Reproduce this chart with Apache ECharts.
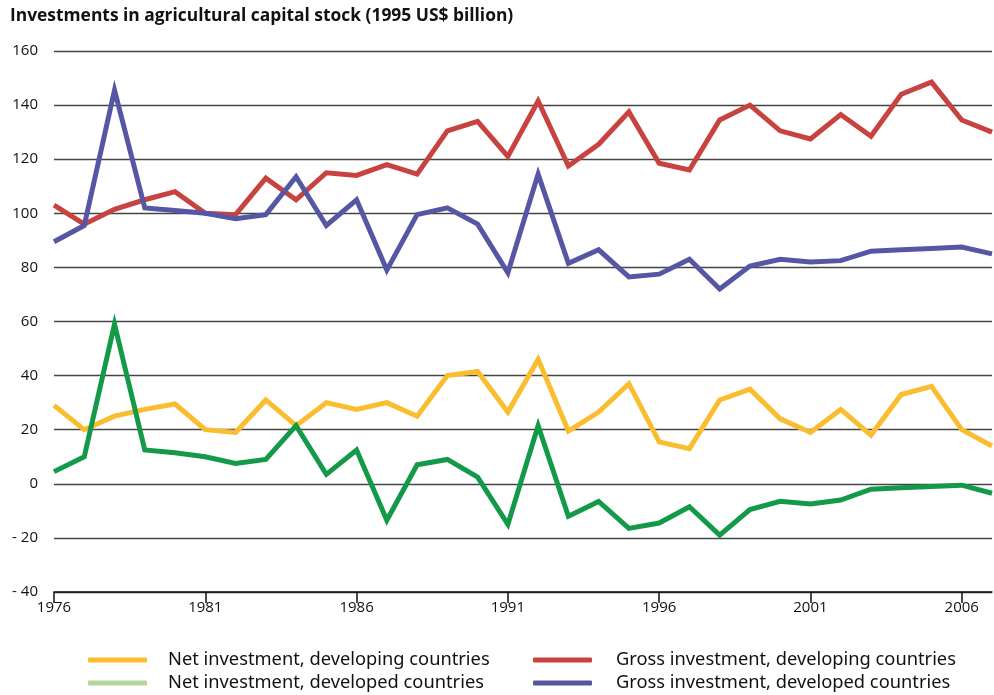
<!DOCTYPE html>
<html>
<head>
<meta charset="utf-8">
<title>Investments in agricultural capital stock</title>
<script src="https://cdn.jsdelivr.net/npm/echarts@6/dist/echarts.min.js"></script>
<style>
  html, body { margin: 0; padding: 0; background: #fff; }
  #chart { width: 994px; height: 695px; }
</style>
</head>
<body>
<div id="chart"></div>
<script>
// years 1976 - 2007
var years = [];
for (var y = 1976; y <= 2007; y++) years.push(String(y));

// 1995 US$ billion
var netDeveloping = [29, 20, 25, 27.5, 29.5, 20, 19, 31, 21.5, 30, 27.5, 30, 25, 40, 41.5,
  26.5, 46, 19.5, 26.5, 37, 15.5, 13, 31, 35, 24, 19, 27.5, 18, 33, 36, 20, 14];
var netDeveloped = [4.5, 10, 59, 12.5, 11.5, 10, 7.5, 9, 21.5, 3.5, 12.5, -13.5, 7, 9, 2.5,
  -15, 21.5, -12, -6.5, -16.5, -14.5, -8.5, -19, -9.5, -6.5, -7.5, -6, -2, -1.5, -1, -0.5, -3.5];
var grossDeveloping = [103, 96, 101.5, 105, 108, 100, 99.5, 113, 105, 115, 114, 118, 114.5, 130.5, 134,
  121, 141.5, 117.5, 125.5, 137.5, 118.5, 116, 134.5, 140, 130.5, 127.5, 136.5, 128.5, 144, 148.5, 134.5, 130];
var grossDeveloped = [89.5, 95.5, 145.5, 102, 101, 100, 98, 99.5, 113.5, 95.5, 105, 79, 99.5, 102, 96,
  78, 114.5, 81.5, 86.5, 76.5, 77.5, 83, 72, 80.5, 83, 82, 82.5, 86, 86.5, 87, 87.5, 85];

var yTicks = { min: -40, max: 160, step: 20 };

var font = 'Open Sans, Noto Sans, sans-serif';
var legendFont = 'Noto Sans, sans-serif';

function lineSeries(name, data, color) {
  return {
    name: name,
    type: 'line',
    data: data,
    symbol: 'none',
    lineStyle: { color: color, width: 5, join: 'miter' },
    itemStyle: { color: color }
  };
}

// one legend box per item so the 2x2 layout lines up like the original
function legendItem(name, color, left, top, gap) {
  return {
    left: left,
    top: top,
    icon: 'roundRect',
    itemWidth: 59,
    itemHeight: 5,
    selectedMode: false,
    textStyle: { fontFamily: legendFont, fontSize: 18.3, color: '#111', padding: [0, 0, 0, gap] },
    data: [{ name: name, itemStyle: { color: color } }]
  };
}

let eChart = echarts.init(document.getElementById('chart'));
let option = {
  animation: false,
  title: {
    text: 'Investments in agricultural capital stock (1995 US$ billion)',
    left: 5,
    top: 3,
    textStyle: { fontFamily: font, fontSize: 17.4, fontWeight: 'bold', color: '#111' }
  },
  legend: [
    legendItem('Net investment, developing countries', '#fbbd30', 83, 646, 16),
    legendItem('Net investment, developed countries', '#b5d499', 83, 669, 16),
    legendItem('Gross investment, developing countries', '#c8423f', 528, 646, 19),
    legendItem('Gross investment, developed countries', '#5657a4', 528, 669, 19)
  ],
  grid: {
    left: 54,
    right: 2,
    top: 51,
    height: 541
  },
  xAxis: {
    type: 'category',
    boundaryGap: false,
    data: years,
    axisLine: { onZero: false, lineStyle: { color: '#111', width: 1.5 } },
    axisTick: { interval: 4, length: 11, lineStyle: { color: '#111', width: 1.5 } },
    axisLabel: { interval: 4, margin: 8, fontFamily: font, fontSize: 15, color: '#111' },
    splitLine: { show: false }
  },
  yAxis: {
    type: 'value',
    min: yTicks.min,
    max: yTicks.max,
    interval: yTicks.step,
    axisLine: { show: false },
    axisTick: { show: false },
    axisLabel: {
      margin: 16,
      fontFamily: font,
      fontSize: 15,
      color: '#111',
      formatter: function (v) { return v < 0 ? '- ' + Math.abs(v) : String(v); }
    },
    splitLine: { lineStyle: { color: '#444', width: 1.3 } }
  },
  series: [
    lineSeries('Net investment, developing countries', netDeveloping, '#fbbd30'),
    lineSeries('Net investment, developed countries', netDeveloped, '#139a48'),
    lineSeries('Gross investment, developing countries', grossDeveloping, '#c8423f'),
    lineSeries('Gross investment, developed countries', grossDeveloped, '#5657a4')
  ]
};
eChart.setOption(option);
</script>
</body>
</html>
